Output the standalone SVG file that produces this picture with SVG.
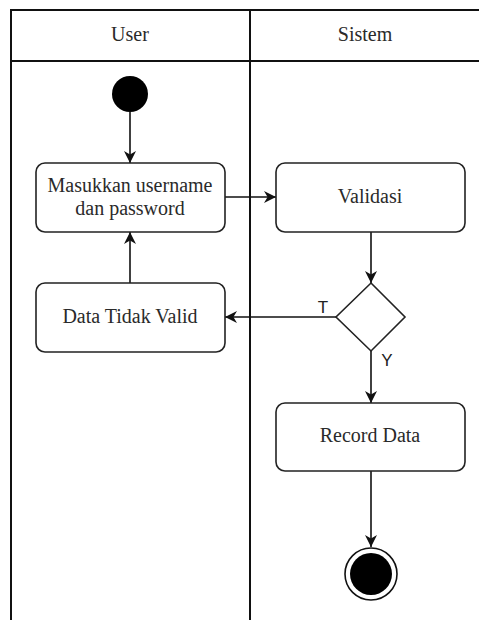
<svg xmlns="http://www.w3.org/2000/svg" width="479" height="620" viewBox="0 0 479 620">
<style>
.lane{stroke:#111;stroke-width:2;fill:none}
.box{fill:#fff;stroke:#222;stroke-width:1.6}
.lbl{font-family:'Liberation Serif','Times New Roman',Times,serif;font-size:20px;fill:#2a2a2a;text-anchor:middle}
.guard{font-family:'Liberation Sans',Arial,sans-serif;font-size:17px;fill:#222;text-anchor:middle}
.edge{stroke:#111;stroke-width:1.6;fill:none;marker-end:url(#arr)}
</style>
<defs>
<marker id="arr" markerUnits="userSpaceOnUse" markerWidth="12" markerHeight="12" viewBox="0 0 10 10" refX="10" refY="5" orient="auto">
<path d="M0,0 L10,5 L0,10 L3,5 z" fill="#111"/>
</marker>
</defs>
<rect width="479" height="620" fill="#fff"/>
<g id="swimlanes">
<line class="lane" x1="10" y1="10" x2="479" y2="10"/>
<line class="lane" x1="11" y1="10" x2="11" y2="620"/>
<line class="lane" x1="11" y1="61" x2="479" y2="61"/>
<line class="lane" x1="250" y1="10" x2="250" y2="620"/>
<text class="lbl" x="130" y="41">User</text>
<text class="lbl" x="365" y="41">Sistem</text>
</g>
<g id="connectors">
<line class="edge" x1="130" y1="112" x2="130" y2="163"/>
<line class="edge" x1="225" y1="197" x2="276" y2="197"/>
<line class="edge" x1="371" y1="232" x2="371" y2="283"/>
<line class="edge" x1="336" y1="317" x2="225" y2="317"/>
<line class="edge" x1="130" y1="283" x2="130" y2="232"/>
<line class="edge" x1="371" y1="351" x2="371" y2="403"/>
<line class="edge" x1="371" y1="471" x2="371" y2="547"/>
<text class="guard" x="323" y="313">T</text>
<text class="guard" x="387" y="366">Y</text>
</g>
<g id="start">
<circle cx="130" cy="94" r="18" fill="#000"/>
</g>
<g id="masukkan">
<rect class="box" x="36" y="163" width="189" height="69" rx="9"/>
<text class="lbl" x="130" y="192">Masukkan username</text>
<text class="lbl" x="130" y="215">dan password</text>
</g>
<g id="validasi">
<rect class="box" x="276" y="163" width="189" height="69" rx="9"/>
<text class="lbl" x="370" y="203">Validasi</text>
</g>
<g id="decision">
<polygon class="box" points="371,283 405,317 371,351 336,317"/>
</g>
<g id="tidakvalid">
<rect class="box" x="36" y="283" width="189" height="69" rx="9"/>
<text class="lbl" x="130" y="323">Data Tidak Valid</text>
</g>
<g id="record">
<rect class="box" x="276" y="403" width="189" height="68" rx="9"/>
<text class="lbl" x="370" y="442">Record Data</text>
</g>
<g id="end">
<circle cx="371" cy="574" r="26" fill="#fff" stroke="#111" stroke-width="1.6"/>
<circle cx="371" cy="574" r="21" fill="#000"/>
</g>
</svg>
